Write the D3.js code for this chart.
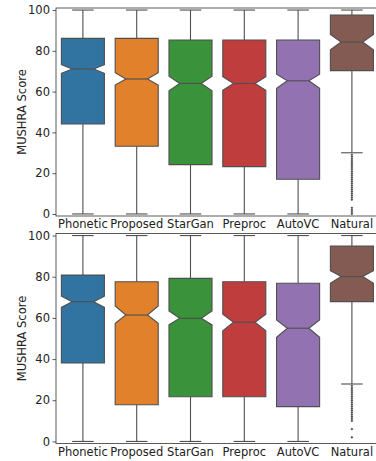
<!DOCTYPE html>
<html>
<head>
<meta charset="utf-8">
<script src="https://cdn.jsdelivr.net/npm/d3@7"></script>
<style>
    body { margin: 0; background: #fff; }
    svg { display: block; font-family: "DejaVu Sans", sans-serif; }
</style>
</head>
<body>
<div id="vis-container"></div>
<script>
// Categories and palette
const categories = ["Phonetic", "Proposed", "StarGan", "Preproc", "AutoVC", "Natural"];
const boxColors = ["#3274a1", "#e1812c", "#3a923a", "#c03d3e", "#9372b2", "#845b53"];
const yTicks = [0, 20, 40, 60, 80, 100];

// Top panel values
const topQ1 = [44.1, 33.2, 24.2, 23.2, 17.0, 70.3];
const topMedian = [71.1, 66.2, 64.0, 64.0, 65.3, 84.3];
const topQ3 = [86.1, 86.1, 85.3, 85.3, 85.3, 97.6];
const topNotchLo = [69.0, 63.2, 60.4, 60.7, 61.6, 80.5];
const topNotchHi = [73.2, 69.3, 67.6, 67.3, 68.5, 88.0];
const topWhiskerLo = [0, 0, 0, 0, 0, 30];
const topWhiskerHi = [100, 100, 100, 100, 100, 100];
const topFliers = [[], [], [], [], [],
    [29, 28, 27, 26, 25, 24, 23, 22, 21, 20, 19, 18, 17, 16, 15, 14, 13, 12, 11, 10, 9, 8, 7, 3, 2, 1, 0]];

// Bottom panel values
const bottomQ1 = [38.1, 17.8, 21.7, 21.7, 16.9, 67.9];
const bottomMedian = [67.9, 61.4, 59.8, 57.9, 55.0, 80.1];
const bottomQ3 = [80.8, 77.6, 79.2, 77.6, 76.8, 94.9];
const bottomNotchLo = [65.1, 57.4, 56.6, 53.7, 50.6, 76.8];
const bottomNotchHi = [70.6, 65.8, 63.4, 61.8, 59.0, 83.0];
const bottomWhiskerLo = [0, 0, 0, 0, 0, 27.9];
const bottomWhiskerHi = [100, 100, 100, 100, 100, 100];
const bottomFliers = [[], [], [], [], [],
    [27, 26, 25, 24, 23, 22, 21, 20, 19, 18, 17, 16, 15, 14, 13, 12, 11, 10, 6, 2]];

function main()
{
    const width = 376;
    const height = 461;
    const lineColor = "#4f4f4f";

    const svg = d3.select("#vis-container")
        .append("svg")
        .attr("width", width)
        .attr("height", height);

    // Shared x scale, the right spine falls just outside the picture
    const xScale = d3.scaleBand()
        .domain(categories)
        .range([56, 378.8])
        .paddingInner(0)
        .paddingOuter(0);

    const panels = [
        { top: 8, bottom: 216, q1: topQ1, med: topMedian, q3: topQ3, nlo: topNotchLo, nhi: topNotchHi,
          wlo: topWhiskerLo, whi: topWhiskerHi, fliers: topFliers },
        { top: 233.5, bottom: 443.5, q1: bottomQ1, med: bottomMedian, q3: bottomQ3, nlo: bottomNotchLo, nhi: bottomNotchHi,
          wlo: bottomWhiskerLo, whi: bottomWhiskerHi, fliers: bottomFliers }
    ];

    panels.forEach(p => drawPanel(svg, p, xScale, lineColor));
}

function drawPanel(svg, p, xScale, lineColor)
{
    const g = svg.append("g");

    // White background hides the top row of labels below the frame
    g.append("rect")
        .attr("x", 0)
        .attr("y", p.top - 1.5)
        .attr("width", 376)
        .attr("height", p.bottom - p.top + 1.5)
        .attr("fill", "#fff");

    const yScale = d3.scaleLinear().domain([-1, 101]).range([p.bottom, p.top]);

    // y axis
    const yAxis = d3.axisLeft(yScale).tickValues(yTicks).tickSize(3.5).tickPadding(2.5);
    const yG = g.append("g")
        .attr("transform", `translate(56, 0)`)
        .call(yAxis);
    yG.select(".domain").remove();
    yG.selectAll(".tick line").attr("stroke", "#333").attr("stroke-width", 0.8);
    yG.selectAll(".tick text")
        .attr("fill", "#222")
        .style("font-size", "11.5px")
        .style("font-family", "'DejaVu Sans', sans-serif");

    // x axis
    const xAxis = d3.axisBottom(xScale).tickSize(0).tickPadding(4);
    const xG = g.append("g")
        .attr("transform", `translate(0, ${p.bottom})`)
        .call(xAxis);
    xG.select(".domain").remove();
    xG.selectAll(".tick text")
        .attr("fill", "#222")
        .style("font-size", "11.5px")
        .style("font-family", "'DejaVu Sans', sans-serif");

    // Frame
    g.append("rect")
        .attr("x", 56)
        .attr("y", p.top)
        .attr("width", 378.8 - 56)
        .attr("height", p.bottom - p.top)
        .attr("fill", "none")
        .attr("stroke", "#333")
        .attr("stroke-width", 0.8);

    // y label
    g.append("text")
        .attr("transform", `translate(21.5, ${(p.top + p.bottom) / 2}) rotate(-90)`)
        .attr("text-anchor", "middle")
        .attr("dominant-baseline", "central")
        .attr("fill", "#222")
        .style("font-size", "11.5px")
        .text("MUSHRA Score");

    const bw = xScale.bandwidth() * 0.8;

    categories.forEach((cat, i) => {
        const cx = xScale(cat) + xScale.bandwidth() / 2;
        const left = cx - bw / 2;
        const right = cx + bw / 2;
        const inset = bw * 0.25;
        const capW = bw * 0.5;

        // Whiskers
        g.append("line")
            .attr("x1", cx).attr("x2", cx)
            .attr("y1", yScale(p.q1[i])).attr("y2", yScale(p.wlo[i]))
            .attr("stroke", lineColor).attr("stroke-width", 1.1);
        g.append("line")
            .attr("x1", cx).attr("x2", cx)
            .attr("y1", yScale(p.q3[i])).attr("y2", yScale(p.whi[i]))
            .attr("stroke", lineColor).attr("stroke-width", 1.1);

        // Caps
        [p.wlo[i], p.whi[i]].forEach(v => {
            g.append("line")
                .attr("x1", cx - capW / 2).attr("x2", cx + capW / 2)
                .attr("y1", yScale(v)).attr("y2", yScale(v))
                .attr("stroke", lineColor).attr("stroke-width", 1.1);
        });

        // Notched box
        const pts = [
            [left, yScale(p.q1[i])],
            [right, yScale(p.q1[i])],
            [right, yScale(p.nlo[i])],
            [right - inset, yScale(p.med[i])],
            [right, yScale(p.nhi[i])],
            [right, yScale(p.q3[i])],
            [left, yScale(p.q3[i])],
            [left, yScale(p.nhi[i])],
            [left + inset, yScale(p.med[i])],
            [left, yScale(p.nlo[i])]
        ];
        g.append("path")
            .attr("d", d3.line()(pts) + "Z")
            .attr("fill", boxColors[i])
            .attr("stroke", lineColor)
            .attr("stroke-width", 1.1)
            .attr("stroke-linejoin", "miter");

        // Median
        g.append("line")
            .attr("x1", left + inset).attr("x2", right - inset)
            .attr("y1", yScale(p.med[i])).attr("y2", yScale(p.med[i]))
            .attr("stroke", lineColor).attr("stroke-width", 1.1);

        // Outliers
        g.selectAll(null)
            .data(p.fliers[i])
            .enter()
            .append("path")
            .attr("d", d3.symbol(d3.symbolDiamond2, 5))
            .attr("transform", d => `translate(${cx}, ${yScale(d)})`)
            .attr("fill", lineColor);
    });
}

document.addEventListener("DOMContentLoaded", main);
</script>
</body>
</html>
